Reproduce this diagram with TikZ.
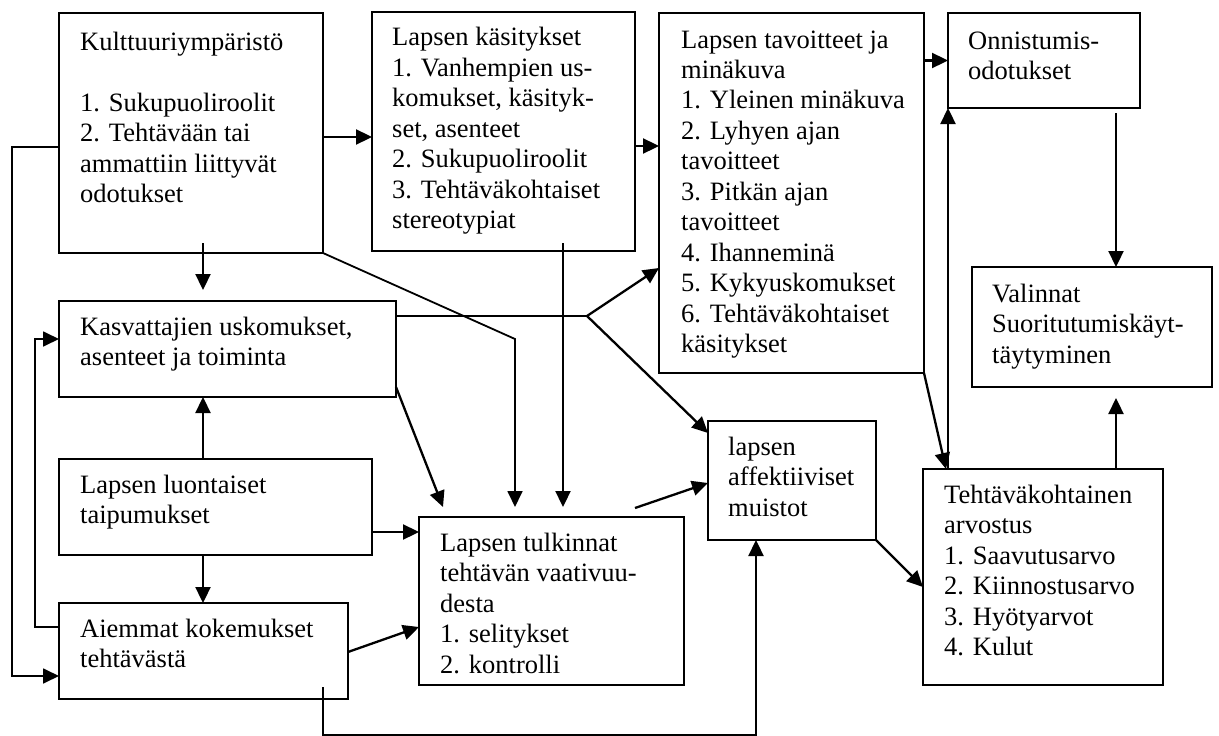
\documentclass[tikz,border=0pt]{standalone}
\usepackage{fontspec}
\setmainfont{Liberation Serif}
\usetikzlibrary{arrows.meta,calc}
\newcommand{\txtlines}[1]{\begin{tabular}[t]{@{}l@{}}#1\end{tabular}}
\begin{document}
\begin{tikzpicture}[x=1pt,y=-1pt,
  box/.style={draw, line width=2pt, outer sep=0pt, inner sep=0pt, anchor=north west},
  txt/.style={anchor=base west, inner sep=0pt, font=\fontsize{26.5pt}{30.5pt}\selectfont},
  arr/.style={line width=2.3pt, -{Triangle[length=16pt,width=15pt]}},
  ln/.style={line width=1.8pt}]
\useasboundingbox (0,0) rectangle (1219,736);

% boxes
\node[box, minimum width=264pt, minimum height=240pt] (kult) at (59,13) {};
\node[box, minimum width=263pt, minimum height=239pt] (kap) at (372,12) {};
\node[box, minimum width=265pt, minimum height=360pt] (tav) at (659,13) {};
\node[box, minimum width=192pt, minimum height=95pt] (onn) at (948,13) {};
\node[box, minimum width=240pt, minimum height=120pt] (val) at (972,267) {};
\node[box, minimum width=337pt, minimum height=96pt] (kas) at (59,301) {};
\node[box, minimum width=313pt, minimum height=96pt] (luo) at (59,459) {};
\node[box, minimum width=289pt, minimum height=96pt] (aie) at (59,603) {};
\node[box, minimum width=265pt, minimum height=168pt] (tul) at (419,517) {};
\node[box, minimum width=168pt, minimum height=119pt] (aff) at (708,421) {};
\node[box, minimum width=240pt, minimum height=216pt] (teh) at (923,469) {};

% texts
\node[txt] (tkult) at ([xshift=21pt,yshift=-37pt]kult.north west) {\txtlines{Kulttuuriympäristö\\ \\ 1. Sukupuoliroolit\\ 2. Tehtävään tai\\ ammattiin liittyvät\\ odotukset}};
\node[txt] (tkap) at ([xshift=20pt,yshift=-33.5pt]kap.north west) {\txtlines{Lapsen käsitykset\\ 1. Vanhempien us-\\ komukset, käsityk-\\ set, asenteet\\ 2. Sukupuoliroolit\\ 3. Tehtäväkohtaiset\\ stereotypiat}};
\node[txt] (ttav) at ([xshift=22pt,yshift=-35pt]tav.north west) {\txtlines{Lapsen tavoitteet ja\\ minäkuva\\ 1. Yleinen minäkuva\\ 2. Lyhyen ajan\\ tavoitteet\\ 3. Pitkän ajan\\ tavoitteet\\ 4. Ihanneminä\\ 5. Kykyuskomukset\\ 6. Tehtäväkohtaiset\\ käsitykset}};
\node[txt] (tonn) at ([xshift=20pt,yshift=-36pt]onn.north west) {\txtlines{Onnistumis-\\ odotukset}};
\node[txt] (tval) at ([xshift=20pt,yshift=-35pt]val.north west) {\txtlines{Valinnat\\ Suoritutumiskäyt-\\ täytyminen}};
\node[txt] (tkas) at ([xshift=21pt,yshift=-34pt]kas.north west) {\txtlines{Kasvattajien uskomukset,\\ asenteet ja toiminta}};
\node[txt] (tluo) at ([xshift=21pt,yshift=-34pt]luo.north west) {\txtlines{Lapsen luontaiset\\ taipumukset}};
\node[txt] (taie) at ([xshift=21pt,yshift=-34pt]aie.north west) {\txtlines{Aiemmat kokemukset\\ tehtävästä}};
\node[txt] (ttul) at ([xshift=21pt,yshift=-34pt]tul.north west) {\txtlines{Lapsen tulkinnat\\ tehtävän vaativuu-\\ desta\\ 1. selitykset\\ 2. kontrolli}};
\node[txt] (taff) at ([xshift=20pt,yshift=-34pt]aff.north west) {\txtlines{lapsen\\ affektiiviset\\ muistot}};
\node[txt] (tteh) at ([xshift=21pt,yshift=-34pt]teh.north west) {\txtlines{Tehtäväkohtainen\\ arvostus\\ 1. Saavutusarvo\\ 2. Kiinnostusarvo\\ 3. Hyötyarvot\\ 4. Kulut}};

% helper coordinates
\coordinate (c1) at (203,243);
\coordinate (c2) at (203,290);
\coordinate (c3) at (1116,113);
\coordinate (c4) at (1116,398);
\coordinate (c5) at (946,469);
\coordinate (c6) at (923,587);
\coordinate (c7) at (0,268);
\coordinate (br) at (587,316);
\coordinate (c8) at (443,507);
\coordinate (c9) at (515,339);
\coordinate (c10) at (563,243);
\coordinate (c11) at (635,508);
\coordinate (c12) at (323,687);
\coordinate (c13) at (756,735);
\coordinate (c14) at (35,339);
\coordinate (c15) at (12,676);

% connectors
\draw[arr] (c1) -- (c2);
\draw[arr] (luo.north -| c1) -- (kas.south -| c1);
\draw[arr] (luo.south -| c1) -- (aie.north -| c1);
\draw[arr] ([yshift=-4pt]kult.east) -- ([yshift=-4pt]kult.east -| kap.west);
\draw[arr] ([yshift=-14.5pt]kap.east) -- ([yshift=-14.5pt]kap.east -| tav.west);
\draw[arr] (onn.west -| tav.east) -- (onn.west);
\draw[arr] (c3) -- (val.north -| c3);
\draw[arr] (teh.north -| c4) -- (c4);
\draw[arr] (teh.north -| onn.south west) -- (onn.south west);
\draw[arr] (tav.south east) -- (teh.north -| c5);
\draw[arr] (aff.south east) -- (teh.west |- c6);
\draw[ln] (kas.east |- br) -- (br);
\draw[arr] (br) -- (tav.west |- c7);
\draw[arr] (br) -- ([yshift=-12pt]aff.north west);
\draw[arr] ([yshift=10pt]kas.south east) -- (c8);
\draw[arr, line width=1.8pt] (kult.south east) -- (c9) -- (c9 |- c8);
\draw[arr] (c10) -- (c10 |- c8);
\draw[arr] ([yshift=-25pt]luo.east) -- ([yshift=-25pt]luo.east -| tul.west);
\draw[arr] ([yshift=-1pt]aie.east) -- ([yshift=-26pt]tul.west);
\draw[arr] (c11) -- ([yshift=-2.5pt]aff.west);
\draw[arr] (c12) -- (c12 |- c13) -- (c13) -- (aff.south -| c13);
\draw[arr, line width=1.8pt] ([yshift=24pt]aie.west) -- ([yshift=24pt]aie.west -| c14) -- (c14) -- (kas.west |- c14);
\draw[arr, line width=1.8pt] ([yshift=-14pt]kult.west) -- ([yshift=-14pt]kult.west -| c15) -- (c15) -- (aie.west |- c15);
\end{tikzpicture}
\end{document}
